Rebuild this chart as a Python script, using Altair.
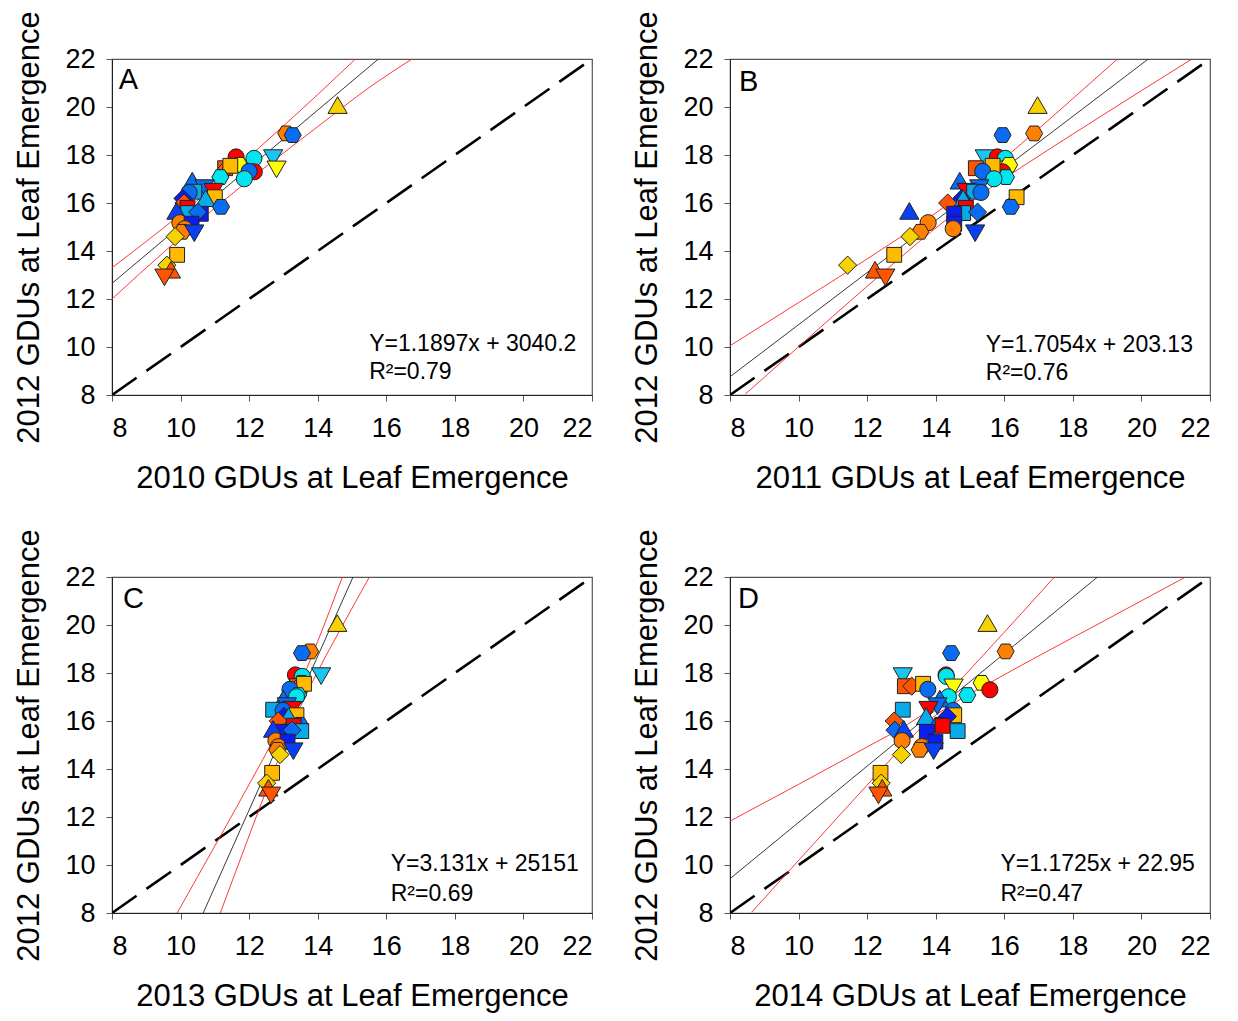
import altair as alt
import pandas as pd

# ---------------------------------------------------------------------------
# GDUs (hundreds) at leaf emergence for each genotype.  The 2012 value is the
# y coordinate in every panel; each panel plots it against one other year.
# ---------------------------------------------------------------------------
gdu_2012 = [20.08, 18.90, 18.83, 17.87, 17.92, 17.86, 17.40, 17.59, 17.30, 17.45,
            17.45, 17.55, 17.32, 17.08, 17.01, 16.93, 16.62, 16.47, 16.47, 16.44,
            16.24, 16.19, 16.20, 16.00, 15.84, 15.80, 15.58, 15.55, 15.62, 15.67,
            15.18, 15.14, 14.93, 14.80, 14.74, 14.60, 13.84, 13.41, 13.22, 12.90]

gdu_2010 = [14.58, 13.08, 13.27, 12.70, 11.62, 12.14, 12.80, 11.71, 12.15, 11.30,
            11.35, 11.45, 12.00, 11.16, 11.86, 10.34, 10.70, 10.96, 10.40, 10.25,
            11.00, 10.07, 10.73, 10.10, 11.18, 10.20, 10.22, 10.59, 10.50, 9.88,
            9.98, 10.32, 10.12, 10.05, 10.40, 9.84, 9.90, 9.60, 9.72, 9.53]

gdu_2011 = [16.97, 16.87, 15.95, 15.43, 15.80, 16.03, 15.85, 16.14, 15.95, 15.17,
            15.60, 15.66, 15.37, 16.05, 15.70, 14.70, 15.27, 14.90, 15.12, 15.32,
            16.36, 14.76, 14.80, 14.35, 16.19, 14.88, 14.80, 14.54, 15.22, 13.23,
            13.78, 14.54, 14.51, 13.55, 15.15, 13.25, 12.79, 11.43, 12.23, 12.53]

gdu_2013 = [14.57, 13.78, 13.54, 14.10, 13.35, 13.55, 13.50, 13.53, 13.45, 13.40,
            13.45, 13.60, 13.19, 13.43, 13.38, 13.00, 13.10, 13.25, 12.70, 12.99,
            13.38, 13.02, 13.15, 12.85, 13.48, 13.30, 13.52, 12.99, 13.25, 12.70,
            12.78, 13.12, 12.85, 12.82, 13.29, 12.90, 12.67, 12.51, 12.56, 12.64]

gdu_2014 = [15.51, 16.04, 14.45, 13.04, 14.30, 14.31, 14.52, 15.34, 15.58, 13.10,
            13.30, 13.63, 13.77, 14.92, 14.37, 14.12, 14.05, 13.79, 13.04, 14.51,
            14.54, 14.34, 13.72, 12.79, 14.10, 14.20, 14.64, 13.74, 12.81, 13.07,
            13.02, 13.99, 13.59, 13.53, 13.94, 13.00, 12.39, 12.41, 12.44, 12.33]

marker = ["up", "hex", "hex", "down", "circle", "circle", "down", "hex", "circle", "square",
          "diamond", "square", "circle", "hex", "circle", "up", "down", "down", "square", "circle",
          "square", "diamond", "up", "diamond", "hex", "square", "square", "square", "diamond", "up",
          "circle", "square", "circle", "hex", "down", "diamond", "square", "diamond", "up", "down"]

hue = ["gold", "orange", "dodger", "sky", "red", "cyan", "yellow", "yellow", "red", "darkorange",
       "darkorange", "amber", "dodger", "cyan", "cyan", "dodger", "dodger", "red", "lightblue", "dodger",
       "amber", "navy", "lightblue", "darkorange", "dodger", "red", "lightblue", "navy", "dodger", "blue",
       "orange", "navy", "orange", "orange", "blue", "gold", "amber", "gold", "darkorange", "darkorange"]

# Regression line and confidence curves for each panel, as (x, y) pairs
fit_2010 = [(8.0, 12.65), (15.77, 22.0)]
upper_2010 = [(8.0, 13.30), (9.5, 14.96), (10.9, 16.59), (12.5, 18.57), (14.0, 20.52), (15.1, 22.0)]
lower_2010 = [(8.0, 12.0), (9.5, 13.94), (10.9, 15.67), (12.5, 17.53), (14.0, 19.18), (15.5, 20.81), (16.75, 22.0)]

fit_2011 = [(8.0, 8.76), (20.2, 22.0)]
upper_2011 = [(8.0, 10.05), (10.0, 11.85), (12.0, 13.67), (14.5, 16.11), (16.5, 18.47), (18.0, 20.35), (19.3, 22.0)]
lower_2011 = [(8.45, 8.04), (10.0, 10.01), (12.0, 12.53), (14.5, 15.51), (16.5, 17.49), (18.0, 18.87), (20.0, 20.68), (21.45, 21.98)]

fit_2013 = [(10.66, 8.0), (15.03, 22.0)]
upper_2013 = [(9.9, 8.0), (10.5, 9.52), (11.25, 11.43), (12.0, 13.36), (12.8, 15.48), (13.4, 17.25), (14.0, 19.32), (14.72, 22.0)]
lower_2013 = [(11.15, 7.97), (11.6, 9.69), (12.2, 11.98), (12.8, 14.22), (13.4, 16.29), (14.0, 18.06), (14.7, 19.92), (15.5, 21.98)]

fit_2014 = [(8.0, 9.43), (18.72, 22.0)]
upper_2014 = [(8.0, 11.83), (10.0, 13.36), (12.0, 14.92), (13.2, 15.88), (13.88, 16.55), (14.6, 17.54), (15.5, 18.92), (16.5, 20.48), (17.5, 22.06)]
lower_2014 = [(8.63, 8.03), (10.0, 10.19), (12.0, 13.33), (13.2, 15.18), (13.88, 16.11), (14.6, 16.80), (15.5, 17.53), (17.0, 18.71), (19.0, 20.24), (21.25, 21.97)]

equations = ["Y=1.1897x + 3040.2", "Y=1.7054x + 203.13", "Y=3.131x + 25151", "Y=1.1725x + 22.95"]
r_squared = ["R\u00b2=0.79", "R\u00b2=0.76", "R\u00b2=0.69", "R\u00b2=0.47"]
letters = ["A", "B", "C", "D"]
years = ["2010", "2011", "2013", "2014"]

# ---------------------------------------------------------------------------
# Styling
# ---------------------------------------------------------------------------
FONT = "Liberation Sans"
PALETTE = {
    "gold": "#F5D200", "amber": "#FFBA00", "yellow": "#FFFF00", "orange": "#FF8000",
    "darkorange": "#FF5500", "red": "#FF0000", "cyan": "#00E6F0", "sky": "#1CC4F0",
    "lightblue": "#0AAAE8", "dodger": "#0A6CF0", "blue": "#0A40F5", "navy": "#0A1EF0",
}
HEXAGON = "M-1,0L-0.5,-0.866L0.5,-0.866L1,0L0.5,0.866L-0.5,0.866Z"
SYMBOL = {"circle": "circle", "square": "square", "diamond": "diamond",
          "up": "triangle-up", "down": "triangle-down", "hex": HEXAGON}
SYMBOL_SIZE = {"circle": 260, "square": 220, "diamond": 330, "up": 370, "down": 370, "hex": 290}

W, H = 480, 336
DOMAIN = [8, 22]
TICKS = list(range(8, 23, 2))


def x_enc(title):
    return alt.X("x:Q", scale=alt.Scale(domain=DOMAIN, nice=False, zero=False),
                 axis=alt.Axis(values=TICKS, grid=False, tickSize=6, labelPadding=14,
                               titlePadding=22),
                 title=title)


def y_enc():
    return alt.Y("y:Q", scale=alt.Scale(domain=DOMAIN, nice=False, zero=False),
                 axis=alt.Axis(values=TICKS, grid=False, tickSize=6, labelPadding=11,
                               titlePadding=19),
                 title="2012 GDUs at Leaf Emergence")


def path_df(pairs):
    return pd.DataFrame({"x": [p[0] for p in pairs], "y": [p[1] for p in pairs],
                         "i": list(range(len(pairs)))})


def panel(k, xs, fit, upper, lower, eq_x, eq_y, r2_y, letter_x, letter_y):
    xt = f"{years[k]} GDUs at Leaf Emergence"

    one_to_one = alt.Chart(path_df([(8, 8), (22, 22)])).mark_line(
        color="black", strokeWidth=2.6, strokeDash=[30, 12], clip=True
    ).encode(x=x_enc(xt), y=y_enc(), order="i:Q")

    fit_line = alt.Chart(path_df(fit)).mark_line(
        color="#222222", strokeWidth=0.9, clip=True
    ).encode(x=x_enc(xt), y=y_enc(), order="i:Q")

    bands = []
    for curve in (upper, lower):
        bands.append(alt.Chart(path_df(curve)).mark_line(
            color="#FF2020", strokeWidth=0.9, interpolate="monotone", clip=True
        ).encode(x=x_enc(xt), y=y_enc(), order="i:Q"))

    pts = pd.DataFrame({
        "x": xs, "y": gdu_2012,
        "shape": [SYMBOL[m] for m in marker],
        "fill": [PALETTE[h] for h in hue],
        "size": [SYMBOL_SIZE[m] for m in marker],
    })
    points = alt.Chart(pts).mark_point(
        filled=True, stroke="#222222", strokeWidth=1, opacity=1, clip=True
    ).encode(
        x=x_enc(xt), y=y_enc(),
        shape=alt.Shape("shape:N", scale=None),
        fill=alt.Fill("fill:N", scale=None),
        size=alt.Size("size:Q", scale=None),
    )

    notes = pd.DataFrame({"x": [eq_x, eq_x], "y": [eq_y, r2_y],
                          "label": [equations[k], r_squared[k]]})
    note_text = alt.Chart(notes).mark_text(
        font=FONT, fontSize=23, align="left", baseline="middle", color="black"
    ).encode(x=x_enc(xt), y=y_enc(), text="label:N")

    tag = pd.DataFrame({"x": [letter_x], "y": [letter_y], "label": [letters[k]]})
    tag_text = alt.Chart(tag).mark_text(
        font=FONT, fontSize=29, align="left", baseline="middle", color="black"
    ).encode(x=x_enc(xt), y=y_enc(), text="label:N")

    return alt.layer(one_to_one, fit_line, *bands, points, note_text, tag_text).properties(
        width=W, height=H
    )


panel_a = panel(0, gdu_2010, fit_2010, upper_2010, lower_2010, 15.5, 10.12, 8.97, 8.2, 21.12)
panel_b = panel(1, gdu_2011, fit_2011, upper_2011, lower_2011, 15.46, 10.1, 8.9, 8.26, 21.03)
panel_c = panel(2, gdu_2013, fit_2013, upper_2013, lower_2013, 16.13, 10.05, 8.8, 8.32, 21.08)
panel_d = panel(3, gdu_2014, fit_2014, upper_2014, lower_2014, 15.89, 10.06, 8.8, 8.23, 21.1)

chart = alt.concat(
    panel_a, panel_b, panel_c, panel_d,
    columns=2, spacing={"row": 182, "column": 138}, bounds="flush",
).properties(
    padding={"left": 13, "top": 10, "right": 5, "bottom": 5},
    background="white",
).configure_view(
    stroke="#555555", strokeWidth=1.2
).configure_axis(
    labelFont=FONT, labelFontSize=27, labelColor="black",
    titleFont=FONT, titleFontSize=31, titleFontWeight="normal", titleColor="black",
    domainColor="#222222", domainWidth=1, tickColor="#555555", tickWidth=1,
)

chart.save("out.html", embed_options={"renderer": "svg", "actions": False})
